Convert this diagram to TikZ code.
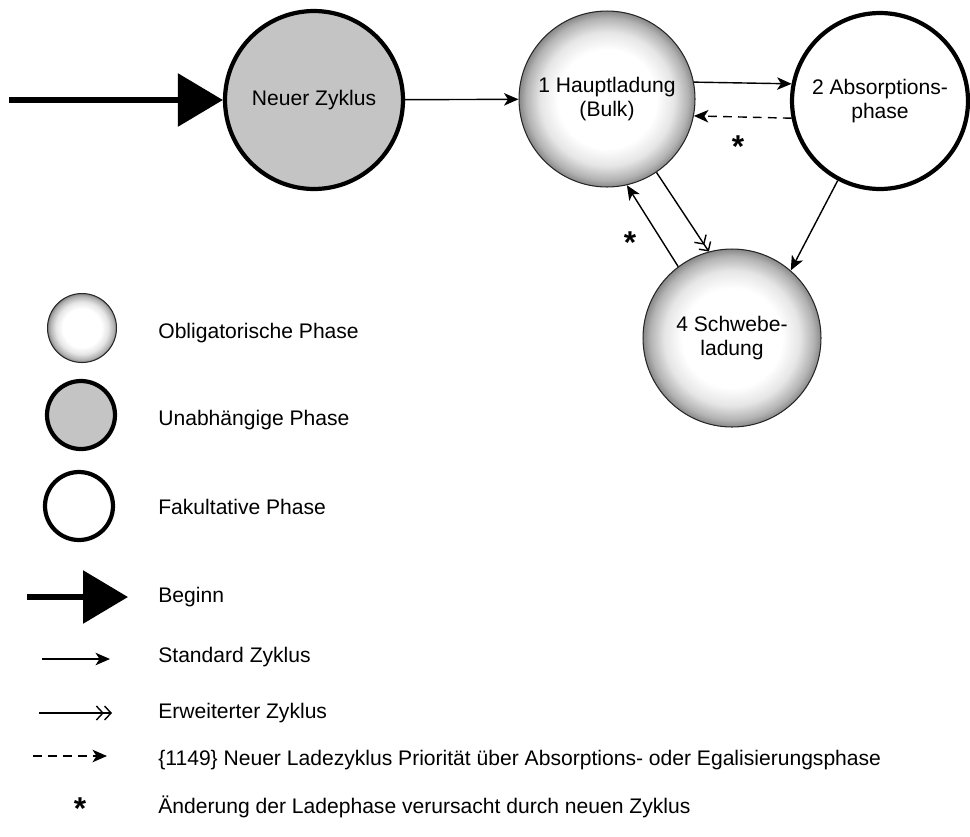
\documentclass[tikz,border=0pt]{standalone}
\usepackage{fontspec}
\setmainfont{Liberation Sans}
\usepackage{tikz}
\usetikzlibrary{arrows.meta,calc}

\pgfdeclareradialshading{phaseball}{\pgfpoint{0bp}{0bp}}{color(0bp)=(white); color(14bp)=(white); color(19bp)=(black!10); color(23bp)=(black!30); color(26bp)=(black!55); color(50bp)=(black!60)}

\begin{document}
\begin{tikzpicture}[
    x=0.02cm, y=-0.02cm,
    every node/.style={font=\fontsize{12}{14}\selectfont},
    oblig/.style={circle, draw=black!85, line width=0.6pt, shading=phaseball, align=center, inner sep=0pt},
    indep/.style={circle, draw=black, line width=2.4pt, fill=black!23, align=center, inner sep=0pt},
    fakult/.style={circle, draw=black, line width=2.4pt, fill=white, align=center, inner sep=0pt},
    lbl/.style={anchor=west, inner sep=0pt},
    star/.style={font=\fontsize{18}{18}\selectfont\bfseries, inner sep=0pt},
    arr/.style={-{Stealth[length=2.9mm, width=2.5mm, inset=0.8mm]}, line width=0.8pt},
    darr/.style={arr, dash pattern=on 5pt off 3.5pt},
    xarr/.style={-{Straight Barb[length=1.3mm, width=2.8mm] Straight Barb[length=1.3mm, width=2.8mm]}, line width=0.8pt},
    barr/.style={-{Triangle[length=9mm, width=10.4mm]}, line width=3.4pt}
]
\useasboundingbox (0,0) rectangle (970,836);

\node[indep, minimum size=3.56cm] (neu) at (314,100) {Neuer Zyklus};
\node[oblig, minimum size=3.52cm] (haupt) at (607,99) {1 Hauptladung\\(Bulk)};
\node[fakult, minimum size=3.52cm] (absorp) at (880,101) {2 Absorptions-\\phase};
\node[oblig, minimum size=3.56cm] (schwebe) at (732,338) {4 Schwebe-\\ladung};

\coordinate (start) at (9,100);
\draw[barr] (start) -- (neu);
\draw[arr] (neu) -- (haupt);
\draw[arr] (haupt.11) -- (absorp.169);
\draw[darr] (absorp.191) -- (haupt.349);
\draw[xarr] (haupt.-56) -- (schwebe.105);
\draw[arr] (schwebe.127) -- (haupt.-77);
\draw[arr] (absorp.-118) -- (schwebe.49);
\node[star] (star1) at (738,147) {*};
\node[star] (star2) at (630,243) {*};

\node[oblig, minimum size=1.38cm] (lobl) at (82,328) {};
\node[lbl] (tobl) at (158,333) {Obligatorische Phase};
\node[indep, minimum size=1.36cm] (lind) at (81,415) {};
\node[lbl] (tind) at (158,420) {Unabhängige Phase};
\node[fakult, minimum size=1.36cm] (lfak) at (79,506) {};
\node[lbl] (tfak) at (158,507) {Fakultative Phase};

\coordinate (beg1) at (27,597);
\coordinate (beg2) at (128,597);
\draw[barr] (beg1) -- (beg2);
\node[lbl] (tbeg) at (158,597) {Beginn};
\coordinate (std1) at (42,659);
\coordinate (std2) at (110,659);
\draw[arr] (std1) -- (std2);
\node[lbl] (tstd) at (158,657) {Standard Zyklus};
\coordinate (erw1) at (39,713);
\coordinate (erw2) at (112,713);
\draw[xarr] (erw1) -- (erw2);
\node[lbl] (terw) at (158,713) {Erweiterter Zyklus};
\coordinate (neu1) at (33,756);
\coordinate (neu2) at (107,756);
\draw[darr] (neu1) -- (neu2);
\node[lbl] (tneu) at (158,760) {\{1149\} Neuer Ladezyklus Priorität über Absorptions- oder Egalisierungsphase};
\node[star] (star3) at (80,809) {*};
\node[lbl] (taend) at (158,807) {Änderung der Ladephase verursacht durch neuen Zyklus};
\end{tikzpicture}
\end{document}
